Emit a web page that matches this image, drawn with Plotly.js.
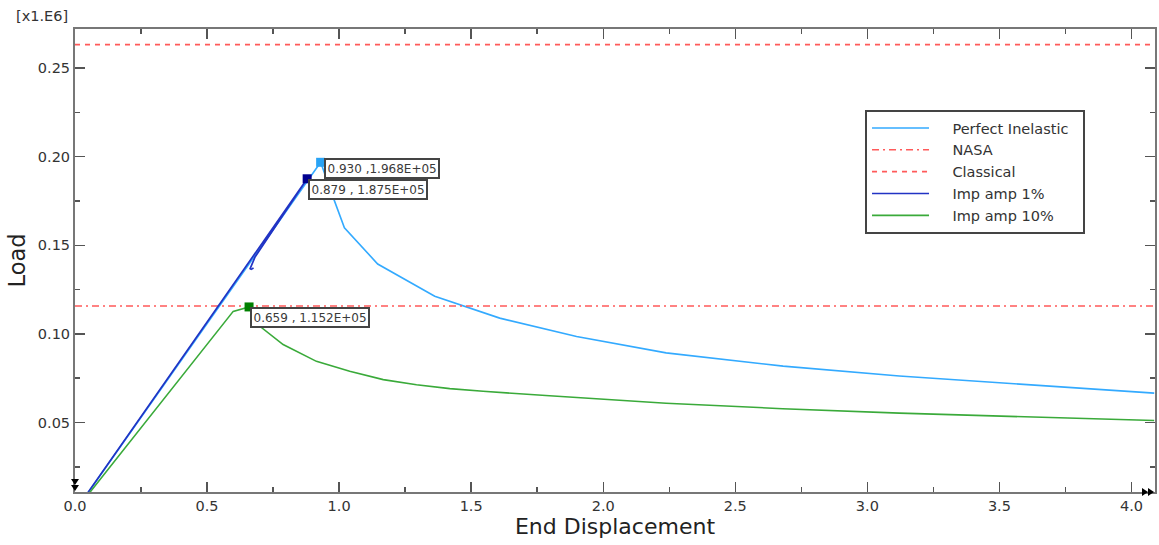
<!DOCTYPE html>
<html>
<head>
<meta charset="utf-8">
<script src="https://cdn.plot.ly/plotly-3.0.1.min.js"></script>
<style>html,body{margin:0;padding:0;background:#fff;}#chart{width:1159px;height:545px;}</style>
</head>
<body>
<div id="chart"></div>
<script>
// ---- data (Load in units of 1e6) ----
const perfectX = [0, 0.930, 0.975, 1.020, 1.146, 1.362, 1.608, 1.899, 2.238, 2.681, 3.121, 3.564, 4.086];
const perfectY = [0, 0.1968, 0.1780, 0.1599, 0.1394, 0.1212, 0.1089, 0.0985, 0.0893, 0.0818, 0.0762, 0.0718, 0.0666];

const imp1X = [0, 0.879, 0.681, 0.668, 0.663, 0.667, 0.676];
const imp1Y = [0, 0.1875, 0.1432, 0.1385, 0.1368, 0.1364, 0.1372];

const imp10X = [0, 0.599, 0.659, 0.700, 0.788, 0.914, 1.040, 1.167, 1.293, 1.419, 1.545, 1.671, 1.797, 2.238, 2.679, 3.121, 3.564, 4.086];
const imp10Y = [0, 0.1127, 0.1152, 0.1043, 0.0940, 0.0845, 0.0789, 0.0742, 0.0713, 0.0691, 0.0676, 0.0662, 0.0651, 0.0609, 0.0578, 0.0553, 0.0534, 0.0511];

const nasaLoad = 0.1157;
const classicalLoad = 0.2632;

const peakX = [0.930, 0.879, 0.659];
const peakY = [0.1968, 0.1875, 0.1152];
const peakLabels = ['0.930 ,1.968E+05', '0.879 , 1.875E+05', '0.659 , 1.152E+05'];

const seriesNames = ['Perfect Inelastic', 'NASA', 'Classical', 'Imp amp 1%', 'Imp amp 10%'];

const xRange = [0, 4.089];
const yRange = [0.0108, 0.272];

// ---- styling ----
const cLight = '#33aaff', cBlue = '#2233c4', cGreen = '#3aaa3a', cRed = '#ff5a5a';
const pre = '\u00a0\u00a0\u00a0\u00a0', post = '\u00a0\u00a0';
const FONT = 'DejaVu Sans, Verdana, sans-serif';
const nm = i => pre + seriesNames[i] + post;

const traces = [
  {x: perfectX, y: perfectY, name: nm(0), mode: 'lines', line: {color: cLight, width: 1.6}},
  {x: xRange, y: [nasaLoad, nasaLoad], name: nm(1), mode: 'lines', line: {color: cRed, width: 1.6, dash: '7px,4px,2px,4px'}},
  {x: xRange, y: [classicalLoad, classicalLoad], name: nm(2), mode: 'lines', line: {color: cRed, width: 1.6, dash: '5px,5px'}},
  {x: imp1X, y: imp1Y, name: nm(3), mode: 'lines', line: {color: cBlue, width: 1.7}},
  {x: imp10X, y: imp10Y, name: nm(4), mode: 'lines', line: {color: cGreen, width: 1.6}},
  {x: peakX, y: peakY, mode: 'markers', showlegend: false,
   marker: {symbol: 'square', size: 9, color: ['#29a3f5', '#00008f', '#008000']}}
];

const annotations = peakX.map((px, i) => ({
  x: px, y: peakY[i], xref: 'x', yref: 'y', text: peakLabels[i], showarrow: false,
  xanchor: 'left', yanchor: 'top', xshift: i === 0 ? 3 : 1, yshift: i === 0 ? 4 : 0,
  bgcolor: '#ffffff', bordercolor: '#444', borderwidth: 2, borderpad: 1.5,
  font: {family: FONT, size: 12, color: '#3a3a3a'}
}));
annotations.push({
  xref: 'paper', yref: 'paper', x: 0, y: 1, xshift: -61, yshift: 3, xanchor: 'left', yanchor: 'bottom',
  text: '[x1.E6]', showarrow: false, font: {family: FONT, size: 14.5, color: '#333'}
});

// axis-limit indicators (pixel-sized triangles anchored at the axis ends)
const shapes = [
  {type: 'path', xref: 'paper', yref: 'paper', xsizemode: 'pixel', ysizemode: 'pixel',
   xanchor: 0, yanchor: 0, path: 'M-4,13 L4,13 L0,7 Z M-4,7 L4,7 L0,1 Z',
   fillcolor: '#000', line: {width: 0}, layer: 'above'},
  {type: 'path', xref: 'paper', yref: 'paper', xsizemode: 'pixel', ysizemode: 'pixel',
   xanchor: 1, yanchor: 0, path: 'M-13,4 L-13,-4 L-7,0 Z M-7,4 L-7,-4 L-1,0 Z',
   fillcolor: '#000', line: {width: 0}, layer: 'above'}
];

const axisCommon = {
  showgrid: false, zeroline: false, showline: true, linecolor: '#777', linewidth: 2,
  mirror: 'ticks', ticks: 'inside', ticklen: 10, tickwidth: 1.5, tickcolor: '#555',
  tickfont: {family: FONT, size: 14.5, color: '#333'}
};

const layout = {
  width: 1159, height: 545,
  margin: {l: 75, r: 4, t: 29, b: 53},
  paper_bgcolor: '#fff', plot_bgcolor: '#fff',
  font: {family: FONT, size: 13, color: '#333'},
  xaxis: Object.assign({}, axisCommon, {
    range: xRange, tick0: 0, dtick: 0.5, tickformat: '.1f',
    minor: {dtick: 0.25, ticklen: 5, tickwidth: 1.5, tickcolor: '#555', ticks: 'inside', showgrid: false},
    title: {text: 'End Displacement', font: {family: FONT, size: 22, color: '#222'}, standoff: 5}
  }),
  yaxis: Object.assign({}, axisCommon, {
    range: yRange, tick0: 0, dtick: 0.05, tickformat: '.2f',
    minor: {dtick: 0.025, ticklen: 5, tickwidth: 1.5, tickcolor: '#555', ticks: 'inside', showgrid: false},
    title: {text: 'Load', font: {family: FONT, size: 22.5, color: '#222'}, standoff: 6}
  }),
  legend: {
    x: 0.7315, y: 0.825, xanchor: 'left', yanchor: 'top',
    bgcolor: '#fff', bordercolor: '#444', borderwidth: 2,
    font: {family: FONT, size: 14.5, color: '#333'}, itemwidth: 57, traceorder: 'normal'
  },
  annotations: annotations,
  shapes: shapes,
  showlegend: true
};

Plotly.newPlot('chart', traces, layout, {displayModeBar: false, staticPlot: true});
</script>
</body>
</html>
